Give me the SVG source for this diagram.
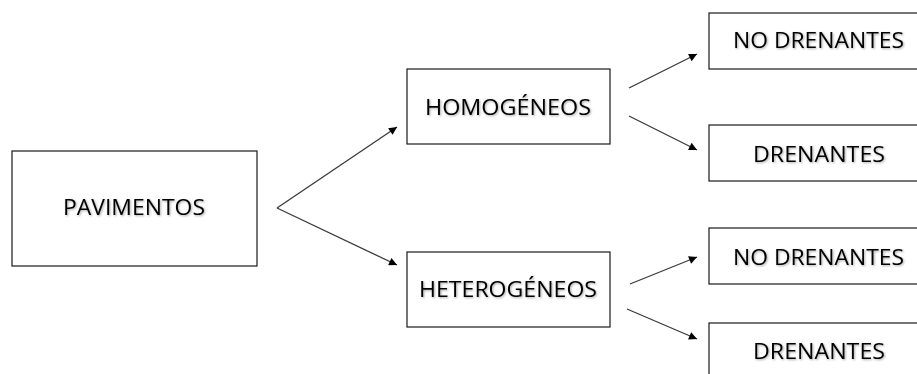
<svg xmlns="http://www.w3.org/2000/svg" width="917" height="374" viewBox="0 0 917 374">
<defs>
<style>
.box{fill:#fff;stroke:#1a1a1a;stroke-width:1.2}
.lbl{font-family:"Open Sans","Liberation Sans",sans-serif;font-size:22px;font-weight:500;fill:#000;text-anchor:middle;filter:url(#sh)}
.conn{stroke:#3a3a3a;stroke-width:1.3;fill:none;marker-end:url(#ah)}
</style>
<filter id="sh" x="-10%" y="-30%" width="120%" height="160%">
<feDropShadow dx="1" dy="1" stdDeviation="0.8" flood-color="#000" flood-opacity="0.35"/>
</filter>
<marker id="ah" viewBox="0 0 10 10" refX="10" refY="5" markerWidth="11" markerHeight="8" markerUnits="userSpaceOnUse" orient="auto">
<path d="M0,0 L10,5 L0,10 z" fill="#000"/>
</marker>
</defs>
<rect width="917" height="374" fill="#fff"/>
<g id="connectors">
<line class="conn" x1="277" y1="208" x2="397" y2="127"/>
<line class="conn" x1="277" y1="208" x2="397" y2="265"/>
<line class="conn" x1="629" y1="88" x2="697" y2="54"/>
<line class="conn" x1="629" y1="116" x2="697" y2="150"/>
<line class="conn" x1="630" y1="284" x2="697" y2="257"/>
<line class="conn" x1="627" y1="309" x2="697" y2="339"/>
</g>
<g id="pavimentos">
<rect class="box" x="12" y="151" width="245" height="115"/>
<text class="lbl" x="134" y="215" textLength="142" lengthAdjust="spacingAndGlyphs">PAVIMENTOS</text>
</g>
<g id="homogeneos">
<rect class="box" x="407" y="69" width="203" height="75"/>
<text class="lbl" x="508" y="115" textLength="166" lengthAdjust="spacingAndGlyphs">HOMOGÉNEOS</text>
</g>
<g id="heterogeneos">
<rect class="box" x="407" y="252" width="203" height="75"/>
<text class="lbl" x="508" y="297" textLength="178" lengthAdjust="spacingAndGlyphs">HETEROGÉNEOS</text>
</g>
<g id="no-drenantes-1">
<rect class="box" x="709" y="13" width="230" height="56"/>
<text class="lbl" x="818.5" y="48" textLength="171" lengthAdjust="spacingAndGlyphs">NO DRENANTES</text>
</g>
<g id="drenantes-1">
<rect class="box" x="709" y="125" width="230" height="56"/>
<text class="lbl" x="819" y="162" textLength="132" lengthAdjust="spacingAndGlyphs">DRENANTES</text>
</g>
<g id="no-drenantes-2">
<rect class="box" x="709" y="228" width="230" height="56"/>
<text class="lbl" x="818.5" y="265" textLength="171" lengthAdjust="spacingAndGlyphs">NO DRENANTES</text>
</g>
<g id="drenantes-2">
<rect class="box" x="709" y="323" width="230" height="80"/>
<text class="lbl" x="819" y="359" textLength="132" lengthAdjust="spacingAndGlyphs">DRENANTES</text>
</g>
</svg>
